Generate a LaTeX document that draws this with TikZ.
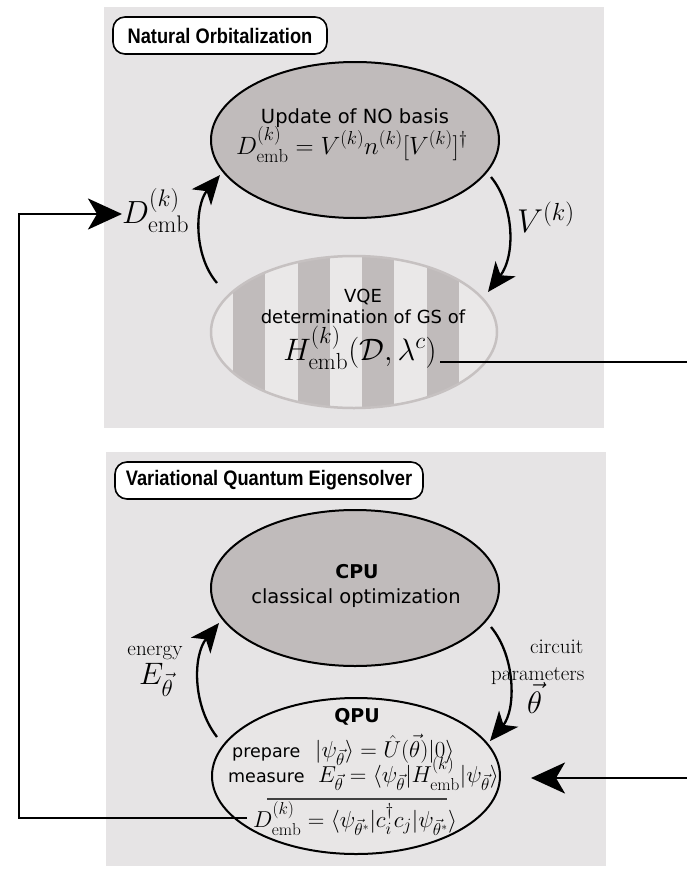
\RequirePackage{fix-cm}
\documentclass[tikz,border=0pt]{standalone}
\usepackage{fontspec}
\usepackage{amsmath}
\usetikzlibrary{arrows.meta,shapes.geometric}

\newfontfamily\dejavu{DejaVu Sans}
\newfontfamily\tagfont[FakeStretch=0.87]{Liberation Sans}

% slightly larger script sizes for the formula labels
\DeclareMathSizes{23}{23}{17.25}{11.5}
\DeclareMathSizes{25}{25}{18.75}{12.5}
\DeclareMathSizes{31}{31}{23.25}{15.5}
\DeclareMathSizes{32}{32}{24}{16}
\DeclareMathSizes{33}{33}{24.75}{16.5}

\definecolor{panelgray}{HTML}{E6E4E5}
\definecolor{ovalgray}{HTML}{C0BBBB}
\definecolor{stripelight}{HTML}{EAE8E8}
\definecolor{stripeedge}{HTML}{C6C1C1}
\definecolor{qpufill}{HTML}{E8E6E6}
\definecolor{rulegray}{HTML}{404040}

\begin{document}
\begin{tikzpicture}[x=1pt,y=-1pt,
  tag/.style={draw=black, line width=1.6pt, fill=white, rounded corners=12pt,
    minimum height=37pt, inner sep=0pt,
    font=\tagfont\bfseries\fontsize{21}{24}\selectfont},
  oval/.style={ellipse, inner sep=0pt, line width=2pt,
    minimum width=288pt, minimum height=156pt},
  txt/.style={inner sep=0pt, anchor=base},
  sansM/.style={txt, font=\dejavu\fontsize{19.5}{23}\selectfont},
  sansS/.style={txt, font=\dejavu\fontsize{18}{21}\selectfont},
  sansQ/.style={txt, font=\dejavu\fontsize{17.5}{21}\selectfont},
  sansB/.style={txt, font=\dejavu\bfseries\fontsize{19}{23}\selectfont},
  serif/.style={txt, font=\fontsize{21}{25}\selectfont},
  mathM/.style={txt, font=\fontsize{25}{29}\selectfont},
  mathQ/.style={txt, font=\fontsize{23}{27}\selectfont},
  mathH/.style={txt, font=\fontsize{31}{35}\selectfont},
  mathL/.style={txt, font=\fontsize{32}{36}\selectfont},
  mathV/.style={txt, font=\fontsize{33}{37}\selectfont},
  mathE/.style={txt, font=\fontsize{31}{35}\selectfont},
  link/.style={line width=2.8pt, line join=miter},
  linkhead/.style={link, -{Stealth[length=34pt, width=31pt, inset=9pt]}},
  cycle/.style={line width=2.3pt, -{Stealth[length=29pt, width=25pt, inset=8pt]}}
]
\useasboundingbox (0,0) rectangle (687,870);

% background panels
\fill[panelgray] (104,7) rectangle (604,428);
\fill[panelgray] (106,452) rectangle (606,866);

% panel titles
\node[tag, minimum width=214pt] (tagNO) at (220,35.5) {Natural Orbitalization};
\node[tag, minimum width=308pt] (tagVQE) at (269,480.5) {Variational Quantum Eigensolver};

% natural orbital update
\node[oval, draw=black, fill=ovalgray] (upd) at (355,140) {};
\node[sansM] (updT) at (355,123) {Update of NO basis};
\node[mathM] (updF) at (352,154) {$D^{(k)}_{\mathrm{emb}} = V^{(k)} n^{(k)} [V^{(k)}]^\dagger$};

% striped VQE oval
\node[oval, fill=stripelight, minimum width=286pt, minimum height=152pt] (vqe) at (354,332) {};
\begin{scope}
  \clip (vqe.center) ellipse [x radius=143pt, y radius=76pt];
  \foreach \sx in {233,298,362,427}
    \fill[ovalgray] (\sx,250) rectangle (\sx+32,415);
\end{scope}
\draw[line width=2.5pt, draw=stripeedge] (vqe.center) ellipse [x radius=143pt, y radius=76pt];
\node[sansS] (vqeT1) at (363,302) {VQE};
\node[sansS] (vqeT2) at (363,323) {determination of GS of};
\node[mathH] (vqeF) at (360,360) {$H^{(k)}_{\mathrm{emb}}(\mathcal{D},\lambda^c)$};

% classical processor
\node[oval, draw=black, fill=ovalgray] (cpu) at (355,588) {};
\node[sansB] (cpuT1) at (357,578) {CPU};
\node[sansM] (cpuT2) at (356,603) {classical optimization};

% quantum processor
\node[oval, draw=black, fill=qpufill] (qpu) at (356,776) {};
\node[sansB] (qpuT) at (357,722) {QPU};
\node[sansQ, anchor=base west] (prep) at (232,757) {prepare};
\node[mathQ, anchor=base west] (prepF) at (315,757) {$|\psi_{\vec\theta}\rangle = \hat U(\vec\theta)|0\rangle$};
\node[sansQ, anchor=base west] (meas) at (228,782) {measure};
\node[mathQ, anchor=base east] (measF) at (499,782) {$E_{\vec\theta} = \langle\psi_{\vec\theta}|H^{(k)}_{\mathrm{emb}}|\psi_{\vec\theta}\rangle$};
\draw[rulegray, line width=2pt] (267,799) -- (447,799);
\node[mathQ, anchor=base west] (dens) at (253,827) {$D^{(k)}_{\mathrm{emb}} = \langle\psi_{\vec\theta^*}|c_i^\dagger c_j|\psi_{\vec\theta^*}\rangle$};

% arrow labels
\node[mathL, anchor=base west] (dLab) at (122,223) {$D^{(k)}_{\mathrm{emb}}$};
\node[mathV, anchor=base west] (vLab) at (517,232) {$V^{(k)}$};
\node[serif] (enLab) at (155,655) {energy};
\node[mathE, anchor=base west] (eLab) at (139,684) {$E_{\vec\theta}$};
\node[serif, anchor=base west] (cLab1) at (530,653) {circuit};
\node[serif, anchor=base west] (cLab2) at (491,680) {parameters};
\node[mathE, anchor=base west] (tLab) at (527,713) {$\vec\theta$};

% connector end points
\coordinate (vqeOut) at (217,283);
\coordinate (updIn) at (220,175);
\coordinate (updOut) at (491,177);
\coordinate (vqeIn) at (488,292);
\coordinate (qpuOut) at (217,737);
\coordinate (cpuIn) at (219,623);
\coordinate (cpuOut) at (491,627);
\coordinate (qpuIn) at (490,741);
\coordinate (densOut) at (247,818);
\coordinate (loopB) at (19,818);
\coordinate (loopT) at (19,214);
\coordinate (hOut) at (440,362);
\coordinate (edgeT) at (687,362);
\coordinate (edgeB) at (687,778);
\coordinate (qpuSide) at (531,778);

% cycle arrows
\draw[cycle] (vqeOut) .. controls (193,255) and (195,205) .. (updIn);
\draw[cycle] (updOut) .. controls (514,205) and (516,255) .. (vqeIn);
\draw[cycle] (qpuOut) .. controls (192,705) and (193,655) .. (cpuIn);
\draw[cycle] (cpuOut) .. controls (516,657) and (516,710) .. (qpuIn);

% outer connectors
\draw[linkhead] (densOut) -- (loopB) -- (loopT) -- (dLab.west |- loopT);
\draw[link] (hOut) -- (edgeT);
\draw[linkhead] (edgeB) -- (qpuSide);
\end{tikzpicture}
\end{document}
